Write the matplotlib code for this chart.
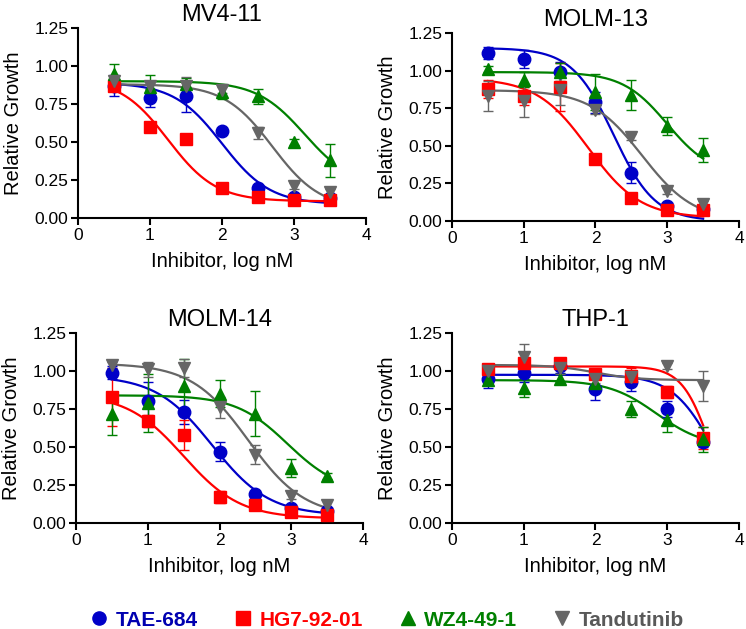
import numpy as np
import matplotlib.pyplot as plt
from matplotlib.lines import Line2D

plt.rcParams['font.family'] = ['Liberation Sans', 'DejaVu Sans']

dose = [0.5, 1.0, 1.5, 2.0, 2.5, 3.0, 3.5]

drugs = ['TAE-684', 'HG7-92-01', 'WZ4-49-1', 'Tandutinib']
colors = ['#0000c8', '#ff0000', '#008000', '#666666']
text_colors = ['#0000b0', '#ff0000', '#008000', '#595959']
markers = ['o', 's', '^', 'v']

cells = ['MV4-11', 'MOLM-13', 'MOLM-14', 'THP-1']

# mean relative growth, per cell line, per drug
mv4_mean = [[0.87, 0.79, 0.80, 0.57, 0.20, 0.14, 0.13],
            [0.87, 0.60, 0.52, 0.20, 0.14, 0.12, 0.12],
            [0.95, 0.86, 0.88, 0.83, 0.80, 0.50, 0.38],
            [0.90, 0.87, 0.87, 0.84, 0.56, 0.21, 0.17]]
mv4_err = [[0.07, 0.06, 0.10, 0.02, 0.02, 0.02, 0.02],
           [0.03, 0.02, 0.03, 0.02, 0.02, 0.02, 0.02],
           [0.06, 0.08, 0.04, 0.05, 0.05, 0.02, 0.11],
           [0.03, 0.03, 0.06, 0.02, 0.04, 0.02, 0.02]]

molm13_mean = [[1.12, 1.08, 0.99, 0.79, 0.32, 0.10, 0.08],
               [0.88, 0.83, 0.89, 0.41, 0.15, 0.07, 0.07],
               [1.01, 0.94, 0.99, 0.86, 0.84, 0.63, 0.47],
               [0.83, 0.80, 0.87, 0.74, 0.56, 0.20, 0.11]]
molm13_err = [[0.04, 0.06, 0.07, 0.07, 0.07, 0.02, 0.02],
              [0.06, 0.06, 0.16, 0.02, 0.02, 0.02, 0.02],
              [0.02, 0.05, 0.06, 0.12, 0.10, 0.06, 0.08],
              [0.10, 0.11, 0.10, 0.03, 0.02, 0.02, 0.02]]

molm14_mean = [[0.99, 0.80, 0.73, 0.47, 0.19, 0.10, 0.08],
               [0.83, 0.67, 0.58, 0.17, 0.12, 0.07, 0.05],
               [0.72, 0.79, 0.90, 0.85, 0.72, 0.36, 0.31],
               [1.04, 1.01, 1.02, 0.76, 0.45, 0.18, 0.12]]
molm14_err = [[0.04, 0.13, 0.08, 0.06, 0.02, 0.02, 0.02],
              [0.19, 0.04, 0.10, 0.04, 0.02, 0.02, 0.02],
              [0.14, 0.19, 0.18, 0.09, 0.15, 0.06, 0.02],
              [0.02, 0.05, 0.06, 0.07, 0.06, 0.02, 0.03]]

thp1_mean = [[0.95, 0.99, 1.03, 0.88, 0.93, 0.75, 0.53],
             [1.01, 1.05, 1.05, 0.98, 0.97, 0.86, 0.56],
             [0.94, 0.89, 0.95, 0.92, 0.75, 0.68, 0.55],
             [1.00, 1.09, 1.02, 0.95, 0.96, 1.03, 0.90]]
thp1_err = [[0.06, 0.06, 0.04, 0.07, 0.06, 0.05, 0.03],
            [0.02, 0.03, 0.03, 0.02, 0.05, 0.04, 0.07],
            [0.03, 0.06, 0.03, 0.04, 0.05, 0.08, 0.08],
            [0.02, 0.09, 0.04, 0.03, 0.03, 0.02, 0.10]]

# fitted dose-response curves: top, bottom, logIC50, hill
mv4_fit = [[0.89, 0.09, 2.0, 1.3], [0.92, 0.11, 1.25, 1.3],
           [0.90, 0.20, 3.15, 1.3], [0.88, 0.06, 2.7, 1.3]]
molm13_fit = [[1.15, 0.0, 2.25, 1.5], [0.95, 0.02, 1.9, 1.2],
              [0.99, 0.30, 3.0, 1.4], [0.87, 0.0, 2.65, 1.2]]
molm14_fit = [[0.97, 0.05, 1.9, 1.1], [0.85, 0.03, 1.5, 1.1],
              [0.84, 0.20, 2.95, 1.2], [1.05, 0.04, 2.4, 1.1]]
thp1_fit = [[0.975, 0.0, 3.65, 1.5], [1.03, 0.0, 3.6, 2.2],
            [0.94, 0.50, 2.85, 1.3], [1.04, 0.94, 2.0, 1.5]]

means = [mv4_mean, molm13_mean, molm14_mean, thp1_mean]
errs = [mv4_err, molm13_err, molm14_err, thp1_err]
fits = [mv4_fit, molm13_fit, molm14_fit, thp1_fit]

W, H = 746, 629
fig = plt.figure(figsize=(W / 100, H / 100), dpi=100)

# axes boxes in pixels: left, top, right, bottom
boxes = [(78, 28, 366, 218), (452, 33, 739, 221),
         (76, 333, 363, 523), (452, 333, 739, 523)]
msizes = {'o': 9, 's': 8.5, '^': 9, 'v': 9}

xc = np.linspace(0.5, 3.5, 200)

for i, cell in enumerate(cells):
    l, t, r, b = boxes[i]
    ax = fig.add_axes([l / W, 1 - b / H, (r - l) / W, (b - t) / H])
    for j in range(4):
        top, bot, ic, h = fits[i][j]
        yc = bot + (top - bot) / (1 + 10 ** ((xc - ic) * h))
        ax.plot(xc, yc, color=colors[j], lw=1.6, zorder=2)
        ax.errorbar(dose, means[i][j], yerr=errs[i][j], fmt=markers[j],
                    color=colors[j], ms=msizes[markers[j]],
                    elinewidth=1.0, capsize=3.5, capthick=1.0,
                    clip_on=False, zorder=3)
    ax.set_xlim(0, 4)
    ax.set_ylim(0, 1.25)
    ax.set_xticks([0, 1, 2, 3, 4])
    ax.set_yticks([0, 0.25, 0.5, 0.75, 1.0, 1.25])
    ax.set_yticklabels(['0.00', '0.25', '0.50', '0.75', '1.00', '1.25'])
    for s in ['top', 'right']:
        ax.spines[s].set_visible(False)
    for s in ['left', 'bottom']:
        ax.spines[s].set_linewidth(1.5)
    ax.tick_params(direction='out', length=5, width=1.5, labelsize=12.5, pad=2)
    ax.set_title(cell, fontsize=17, pad=5)
    ax.set_xlabel('Inhibitor, log nM', fontsize=14.5, labelpad=7)
    ax.set_ylabel('Relative Growth', fontsize=14.5, labelpad=8)

handles = [Line2D([], [], ls='none', marker=markers[j], color=colors[j], ms=9.5)
           for j in range(4)]
leg = fig.legend(handles, drugs, loc='center', bbox_to_anchor=(388 / W, 1 - 620 / H),
                 ncol=4, frameon=False, handlelength=0.7, handletextpad=0.45,
                 columnspacing=1.8, borderpad=0,
                 prop={'weight': 'bold', 'size': 15})
for txt, c in zip(leg.get_texts(), text_colors):
    txt.set_color(c)

fig.savefig('out.png', dpi=100)
